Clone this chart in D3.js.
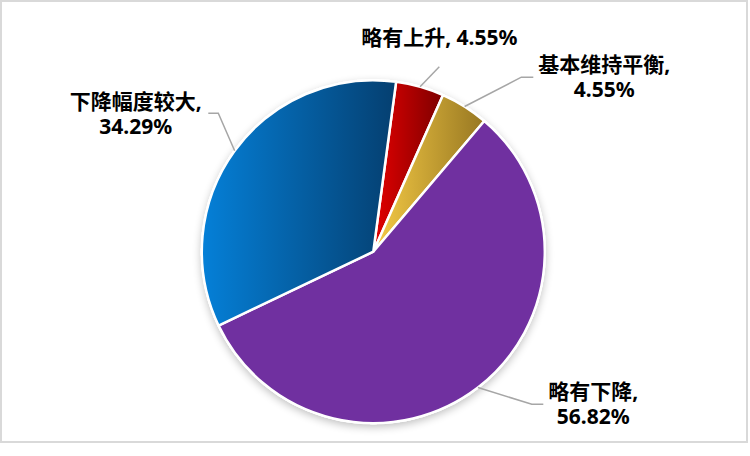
<!DOCTYPE html>
<html>
<head>
<meta charset="utf-8">
<script src="https://cdn.jsdelivr.net/npm/d3@7"></script>
<style>
  html, body { margin: 0; padding: 0; background: #fff; }
  svg { display: block; }
  .label { font-family: "Noto Sans", "Noto Sans CJK SC", sans-serif; font-weight: bold; font-size: 21px; fill: #000; }
  .leader { fill: none; stroke: #a6a6a6; stroke-width: 1.5; }
</style>
</head>
<body>
<svg width="750" height="456"></svg>
<script>
const categories = ["略有上升", "基本维持平衡", "略有下降", "下降幅度较大"];
const values = [4.55, 4.55, 56.82, 34.29];
const valueLabels = ["4.55%", "4.55%", "56.82%", "34.29%"];

const width = 750, height = 456;
const cx = 373.3, cy = 251.7, radius = 171.5;
const startDeg = 7.65;

const svg = d3.select("svg");

// chart frame
svg.append("rect")
    .attr("x", 1).attr("y", 1)
    .attr("width", 746).attr("height", 441)
    .attr("fill", "#fff")
    .attr("stroke", "#d9d9d9")
    .attr("stroke-width", 2);

const defs = svg.append("defs");

const shadow = defs.append("filter").attr("id", "shadow")
    .attr("x", "-10%").attr("y", "-10%").attr("width", "120%").attr("height", "120%");
shadow.append("feGaussianBlur").attr("in", "SourceAlpha").attr("stdDeviation", 4);
shadow.append("feOffset").attr("dx", 0).attr("dy", 3).attr("result", "blur");
shadow.append("feComponentTransfer").append("feFuncA").attr("type", "linear").attr("slope", 0.25);
const merge = shadow.append("feMerge");
merge.append("feMergeNode");
merge.append("feMergeNode").attr("in", "SourceGraphic");

// per-slice fills: gradients left -> right, purple flat
const fills = [
    ["#e30000", "#7d0000"],
    ["#f6cb45", "#977722"],
    ["#7030a0", "#7030a0"],
    ["#0580d8", "#053f70"]
];
fills.forEach((f, i) => {
    const g = defs.append("linearGradient").attr("id", "grad" + i)
        .attr("x1", "0%").attr("y1", "0%").attr("x2", "100%").attr("y2", "0%");
    g.append("stop").attr("offset", "0%").attr("stop-color", f[0]);
    g.append("stop").attr("offset", "100%").attr("stop-color", f[1]);
});

const rad = Math.PI / 180;
const pie = d3.pie().sort(null)
    .startAngle(startDeg * rad)
    .endAngle(startDeg * rad + 2 * Math.PI);
const arcs = pie(values);
const arc = d3.arc().innerRadius(0).outerRadius(radius);

const chart = svg.append("g").attr("transform", `translate(${cx},${cy})`);

chart.append("circle").attr("r", radius + 1)
    .attr("fill", "#fff")
    .attr("filter", "url(#shadow)");

chart.selectAll("path.slice")
    .data(arcs)
    .enter().append("path")
    .attr("class", "slice")
    .attr("d", arc)
    .attr("fill", (d, i) => `url(#grad${i})`)
    .attr("stroke", "#fff")
    .attr("stroke-width", 2.5)
    .attr("stroke-linejoin", "round");

// label layout: elbow points and text anchors (relative to pie centre)
const layout = [
    { pts: [[66, -185]], text: [66, -214], lines: 1 },
    { pts: [[148, -174.5], [160, -174.5]], text: [231, -187], lines: 2 },
    { pts: [[158.5, 152.5], [170, 152.5]], text: [220, 140], lines: 2 },
    { pts: [[-155, -138.5], [-165, -138.5]], text: [-237.5, -150], lines: 2 }
];

arcs.forEach((d, i) => {
    const mid = (d.startAngle + d.endAngle) / 2;
    const p0 = [radius * Math.sin(mid), -radius * Math.cos(mid)];
    chart.append("path")
        .attr("class", "leader")
        .attr("d", d3.line()([p0].concat(layout[i].pts)));

    const t = chart.append("text")
        .attr("class", "label")
        .attr("text-anchor", "middle")
        .attr("x", layout[i].text[0])
        .attr("y", layout[i].text[1]);
    if (layout[i].lines === 1) {
        t.append("tspan").attr("x", layout[i].text[0]).attr("dy", "0.35em")
            .text(categories[i] + ", " + valueLabels[i]);
    } else {
        t.append("tspan").attr("x", layout[i].text[0]).attr("dy", "0.35em")
            .text(categories[i] + ",");
        t.append("tspan").attr("x", layout[i].text[0]).attr("dy", 25)
            .text(valueLabels[i]);
    }
});
</script>
</body>
</html>
